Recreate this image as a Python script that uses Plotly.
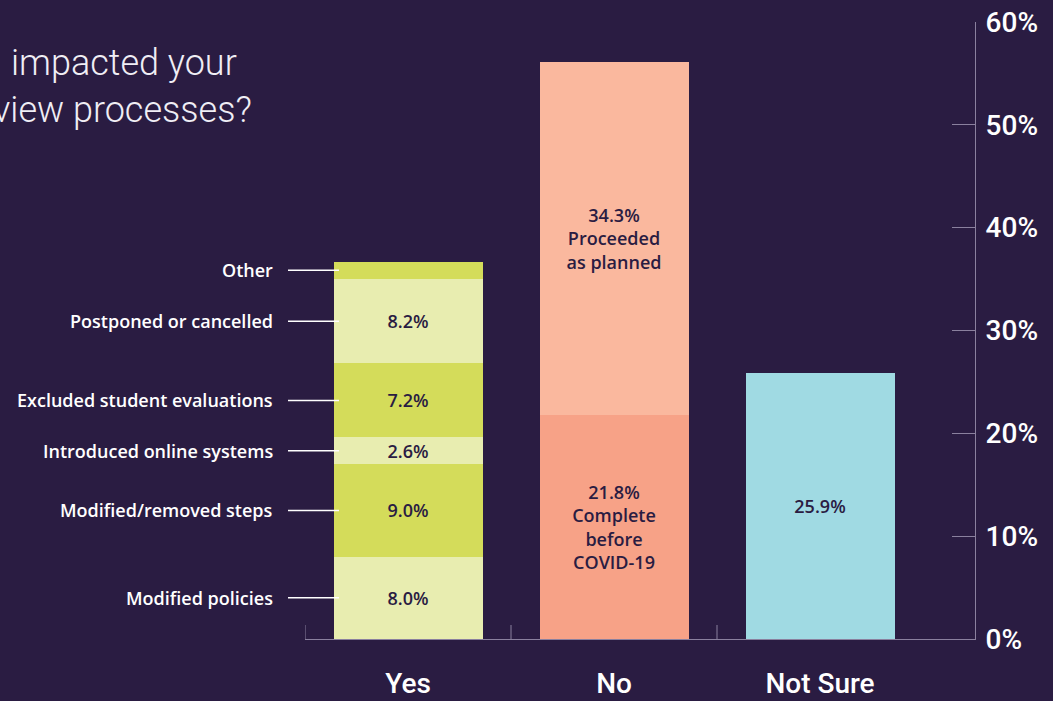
import plotly.graph_objects as go

# ---- data ----
categories = ["Yes", "No", "Not Sure"]

yes_labels = ["Modified policies", "Modified/removed steps", "Introduced online systems",
              "Excluded student evaluations", "Postponed or cancelled", "Other"]
yes_values = [8.0, 9.0, 2.6, 7.2, 8.2, 1.7]
yes_show_text = [True, True, True, True, True, False]

no_labels = ["Complete<br>before<br>COVID-19", "Proceeded<br>as planned"]
no_values = [21.8, 34.3]

notsure_value = [25.9]

y_ticks = [0, 10, 20, 30, 40, 50, 60]

title_lines = ["impacted your", "view processes?"]

# ---- style ----
BG = "#2a1c42"
AXIS = "#8a809e"
YES_COLORS = ["#e8edb0", "#d4dc5a"]
NO_COLORS = ["#f7a287", "#fab89e"]
NOTSURE_COLOR = "#a0dae3"
FONT = "Roboto"
LABEL_FONT = "Open Sans"
TXT_DARK = "#2a1c42"
BAR_FONT = dict(family=LABEL_FONT, size=18, color=TXT_DARK, weight=600)

fig = go.Figure()

for i, (lab, val, show) in enumerate(zip(yes_labels, yes_values, yes_show_text)):
    fig.add_trace(go.Bar(
        x=[categories[0]], y=[val], name=lab,
        marker=dict(color=YES_COLORS[i % 2], line=dict(width=0)),
        text=[f"{val:.1f}%" if show else ""], textposition="inside",
        insidetextanchor="middle", textfont=BAR_FONT, constraintext="none",
        hoverinfo="skip",
    ))

for i, (lab, val) in enumerate(zip(no_labels, no_values)):
    fig.add_trace(go.Bar(
        x=[categories[1]], y=[val], name=lab,
        marker=dict(color=NO_COLORS[i], line=dict(width=0)),
        text=[f"{val:.1f}%<br>{lab}"], textposition="inside",
        insidetextanchor="middle", textfont=BAR_FONT, constraintext="none",
        hoverinfo="skip",
    ))

fig.add_trace(go.Bar(
    x=[categories[2]], y=notsure_value, name="Not Sure",
    marker=dict(color=NOTSURE_COLOR, line=dict(width=0)),
    text=[f"{notsure_value[0]:.1f}%"], textposition="inside",
    insidetextanchor="middle", textfont=BAR_FONT, constraintext="none",
    hoverinfo="skip",
))

W, H = 1053, 701
ML, MR, MT, MB = 305, 78, 22, 62
PW = W - ML - MR
PH = H - MT - MB
YMAX = 60
cat_px = 206

def px_to_paper_x(px):
    return (px - ML) / PW

def px_to_paper_y(py):
    return (H - MB - py) / PH

shapes = []
annotations = []

# left labels with connector lines for Yes segments
cum = 0
for lab, val in zip(yes_labels, yes_values):
    mid = cum + val / 2
    cum += val
    yp = mid / YMAX
    shapes.append(dict(type="line", xref="paper", yref="paper",
                       x0=px_to_paper_x(288), x1=px_to_paper_x(339), y0=yp, y1=yp,
                       line=dict(color="#ffffff", width=1.5), layer="above"))
    annotations.append(dict(xref="paper", yref="paper", x=px_to_paper_x(275), y=yp,
                            xanchor="right", yanchor="middle", showarrow=False,
                            text=lab, font=dict(family=LABEL_FONT, size=18, color="#ffffff", weight=600)))

# x boundary ticks
for b in [-0.5, 0.5, 1.5]:
    shapes.append(dict(type="line", xref="x", yref="paper", x0=b, x1=b,
                       y0=0, y1=14 / PH, line=dict(color=AXIS, width=1)))

# title fragments
annotations.append(dict(xref="paper", yref="paper", x=px_to_paper_x(239), y=px_to_paper_y(63),
                        xanchor="right", yanchor="middle", showarrow=False, text=title_lines[0],
                        font=dict(family=FONT, size=36, color="#f0eef5", weight=300)))
annotations.append(dict(xref="paper", yref="paper", x=px_to_paper_x(254), y=px_to_paper_y(110),
                        xanchor="right", yanchor="middle", showarrow=False, text=title_lines[1],
                        font=dict(family=FONT, size=36, color="#f0eef5", weight=300)))

fig.update_layout(
    width=W, height=H,
    margin=dict(l=ML, r=MR, t=MT, b=MB, pad=0, autoexpand=False),
    paper_bgcolor=BG, plot_bgcolor=BG,
    barmode="stack", bargap=1 - 149 / cat_px,
    showlegend=False,
    uniformtext=dict(mode=False),
    shapes=shapes, annotations=annotations,
    xaxis=dict(
        type="category", categoryorder="array", categoryarray=categories,
        range=[-0.5, -0.5 + PW / cat_px],
        showline=True, linecolor=AXIS, linewidth=1,
        ticks="", showgrid=False, zeroline=False, automargin=False,
        tickfont=dict(family=FONT, size=28, color="#ffffff", weight=500),
        ticklabelstandoff=19,
    ),
    yaxis=dict(
        side="right", range=[0, YMAX],
        tickvals=y_ticks, ticktext=[f"{v}%" for v in y_ticks],
        showline=True, linecolor=AXIS, linewidth=1,
        ticks="inside", ticklen=23, tickcolor=AXIS, tickwidth=1,
        showgrid=False, zeroline=False, automargin=False,
        tickfont=dict(family=FONT, size=28, color="#ffffff", weight=500),
        ticklabelstandoff=4,
    ),
)

fig.write_html("out.html", config={"displayModeBar": False},
               post_script="document.body.style.margin='0';document.body.style.background='%s';" % BG)
